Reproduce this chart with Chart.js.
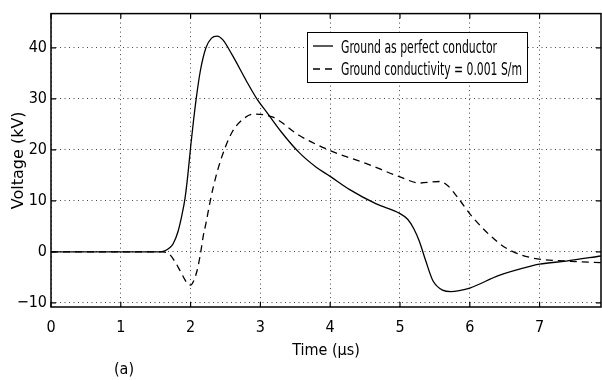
<!DOCTYPE html>
<html>
<head>
<meta charset="utf-8">
<script src="https://cdn.jsdelivr.net/npm/chart.js@4/dist/chart.umd.min.js"></script>
<style>
  html, body { margin: 0; padding: 0; background: #fff; }
  #wrap { width: 602px; height: 380px; }
</style>
</head>
<body>
<div id="wrap"><canvas id="voltChart" width="602" height="380"></canvas></div>
<script>
// values
const perfectTime = [0, 1.55, 1.63, 1.70, 1.75, 1.82, 1.88, 1.92, 1.96, 2.00, 2.04, 2.08, 2.14, 2.22, 2.30, 2.38, 2.46, 2.60, 2.80, 2.95, 3.10, 3.30, 3.56, 3.80, 4.0, 4.28, 4.66, 5.0, 5.11, 5.20, 5.28, 5.37, 5.47, 5.61, 5.73, 5.85, 6.0, 6.42, 6.9, 7.0, 7.38, 7.88];
const perfectVolt = [0, 0, 0.2, 0.8, 1.6, 4, 7.5, 10.5, 15, 20.5, 25.5, 30, 35.5, 40, 41.9, 42.3, 41.6, 38.5, 33.5, 30, 27.2, 23.5, 19.4, 16.6, 14.8, 12.2, 9.4, 7.5, 6.4, 4.5, 2.0, -1.8, -5.6, -7.5, -7.8, -7.6, -7.1, -4.6, -2.7, -2.4, -1.8, -0.8];

const lossyTime = [0, 1.6, 1.70, 1.78, 1.85, 1.92, 1.96, 2.0, 2.04, 2.09, 2.14, 2.18, 2.22, 2.27, 2.32, 2.40, 2.50, 2.60, 2.75, 2.90, 3.18, 3.56, 4.01, 4.52, 5.0, 5.28, 5.57, 5.69, 5.83, 6.04, 6.42, 6.61, 6.9, 7.38, 7.88];
const lossyVolt = [0, 0, -0.5, -2, -3.7, -5.5, -6.3, -6.5, -5.8, -3.8, -0.5, 3.0, 5.6, 9.2, 12.4, 16.6, 20.6, 23.6, 26.0, 27.0, 26.4, 22.8, 19.8, 17.3, 14.7, 13.5, 13.8, 12.9, 10.6, 6.8, 1.7, 0.1, -1.2, -1.8, -2.1];

const seriesLabels = ['Ground as perfect conductor', 'Ground conductivity = 0.001 S/m'];
const xTickLabels = ['0', '1', '2', '3', '4', '5', '6', '7'];
const yTickLabels = ['-10', '0', '10', '20', '30', '40'];

const narrow = "'Liberation Sans Narrow', 'DejaVu Sans Condensed', sans-serif";

function toPoints(xs, ys) {
  return xs.map((x, i) => ({ x: x, y: ys[i] }));
}

// MATLAB-style box, inward ticks, legend and panel tag
const frame = {
  id: 'frame',
  afterDraw(chart) {
    const ctx = chart.ctx;
    const a = chart.chartArea;
    const xs = chart.scales.x, ys = chart.scales.y;
    ctx.save();
    ctx.strokeStyle = '#000';
    ctx.lineWidth = 1.5;
    ctx.setLineDash([]);
    ctx.strokeRect(a.left, a.top, a.right - a.left, a.bottom - a.top);

    ctx.lineWidth = 1.2;
    ctx.beginPath();
    xTickLabels.forEach(t => {
      const px = xs.getPixelForValue(Number(t));
      ctx.moveTo(px, a.bottom); ctx.lineTo(px, a.bottom - 5);
      ctx.moveTo(px, a.top); ctx.lineTo(px, a.top + 5);
    });
    yTickLabels.forEach(t => {
      const py = ys.getPixelForValue(Number(t));
      ctx.moveTo(a.left, py); ctx.lineTo(a.left + 5, py);
      ctx.moveTo(a.right, py); ctx.lineTo(a.right - 5, py);
    });
    ctx.stroke();

    // legend
    const lx = 307, ly = 32, lw = 220, lh = 50;
    ctx.fillStyle = '#fff';
    ctx.fillRect(lx, ly, lw, lh);
    ctx.lineWidth = 1;
    ctx.strokeRect(lx + 0.5, ly + 0.5, lw, lh);
    ctx.font = '17px ' + narrow;
    ctx.fillStyle = '#000';
    ctx.textBaseline = 'alphabetic';
    ctx.textAlign = 'left';
    const rows = [{ y: 46, base: 53, w: 156 }, { y: 69, base: 75, w: 181 }];
    chart.data.datasets.forEach((ds, i) => {
      const r = rows[i];
      ctx.lineWidth = 1.3;
      ctx.setLineDash(ds.borderDash || []);
      ctx.beginPath();
      ctx.moveTo(313, r.y); ctx.lineTo(333, r.y);
      ctx.stroke();
      ctx.setLineDash([]);
      ctx.fillText(ds.label, 341, r.base, r.w);
    });

    ctx.font = '16px ' + narrow;
    ctx.textAlign = 'center';
    ctx.textBaseline = 'middle';
    ctx.fillText('(a)', 124, 370);
    ctx.restore();
  }
};

new Chart(document.getElementById('voltChart').getContext('2d'), {
  type: 'line',
  data: {
    datasets: [
      {
        label: seriesLabels[0],
        data: toPoints(perfectTime, perfectVolt),
        borderColor: '#000',
        borderWidth: 1.3,
        pointRadius: 0,
        cubicInterpolationMode: 'monotone'
      },
      {
        label: seriesLabels[1],
        data: toPoints(lossyTime, lossyVolt),
        borderColor: '#000',
        borderWidth: 1.3,
        borderDash: [7, 5],
        pointRadius: 0,
        cubicInterpolationMode: 'monotone'
      }
    ]
  },
  options: {
    responsive: false,
    animation: false,
    layout: { padding: { top: 6, right: 1, left: 0, bottom: 0 } },
    plugins: {
      legend: { display: false },
      tooltip: { enabled: false }
    },
    scales: {
      x: {
        type: 'linear',
        min: 0,
        max: 7.88,
        afterFit(s) { s.height = 73; },
        grid: { color: '#444', drawTicks: false, lineWidth: 1 },
        border: { display: false, dash: [1, 3.5] },
        ticks: {
          stepSize: 1,
          includeBounds: false,
          padding: 11,
          color: '#000',
          font: { family: narrow, size: 16 },
          callback: v => xTickLabels.includes(String(v)) ? String(v) : ''
        },
        title: {
          display: true,
          text: 'Time (μs)',
          color: '#000',
          font: { family: narrow, size: 16 },
          padding: { top: 0, bottom: 20 }
        }
      },
      y: {
        min: -10.8,
        max: 46.7,
        afterFit(s) { s.width = 51; },
        grid: { color: '#444', drawTicks: false, lineWidth: 1 },
        border: { display: false, dash: [1, 3.5] },
        ticks: {
          stepSize: 10,
          includeBounds: false,
          padding: 4,
          color: '#000',
          font: { family: narrow, size: 16 },
          callback: v => yTickLabels.includes(String(v)) ? String(v).replace('-', '\u2212') : ''
        },
        title: {
          display: true,
          text: 'Voltage (kV)',
          color: '#000',
          font: { family: "'DejaVu Sans', sans-serif", size: 16 },
          padding: { top: 9, bottom: 0 }
        }
      }
    }
  },
  plugins: [frame]
});
</script>
</body>
</html>
